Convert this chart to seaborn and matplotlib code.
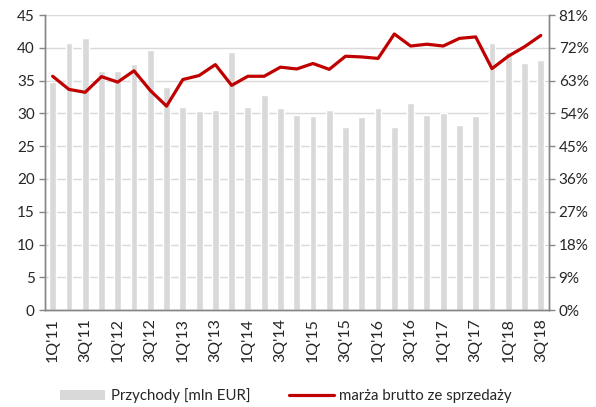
import numpy as np
import pandas as pd
import seaborn as sns
import matplotlib.pyplot as plt
from matplotlib.lines import Line2D
from matplotlib.patches import Patch
from matplotlib.ticker import FixedLocator, PercentFormatter

# quarters 1Q'11 .. 3Q'18
quarters = [f"{q}Q'{y:02d}" for y in range(11, 19) for q in range(1, 5)][:31]

# revenue [mln EUR] (left axis)
revenue = [34.8, 40.8, 41.5, 36.5, 36.5, 37.5, 39.7, 34.0, 31.0, 30.3,
           30.5, 39.3, 31.0, 32.8, 30.8, 29.8, 29.6, 30.5, 28.0, 29.4,
           30.8, 28.0, 31.6, 29.8, 30.1, 28.2, 29.6, 40.7, 39.4, 37.7,
           38.1]

# gross margin on sales [%] (right axis)
margin = [64.2, 60.6, 59.8, 64.1, 62.6, 65.7, 60.3, 56.0, 63.3, 64.4,
          67.4, 61.7, 64.2, 64.2, 66.7, 66.2, 67.7, 66.1, 69.7, 69.5,
          69.1, 75.8, 72.5, 73.0, 72.5, 74.6, 75.0, 66.3, 69.7, 72.3,
          75.4]

df = pd.DataFrame({"kw": quarters, "rev": revenue, "mar": margin})
df["pos"] = np.arange(len(df))

sns.set_style("white")
plt.rcParams["font.family"] = ["Lato", "DejaVu Sans"]
txt = "#262626"
axis_c = "#868686"

fig = plt.figure(figsize=(5.96, 4.07), dpi=100)
ax = fig.add_axes([0.0747, 0.238, 0.8463, 0.725])

sns.barplot(data=df, x="pos", y="rev", color="#d9d9d9", width=0.42,
            saturation=1, ax=ax, native_scale=True)
ax.set_axisbelow(True)
ax.yaxis.grid(True, color="#d9d9d9", linewidth=1)
ax.set_ylim(0, 45)
ax.set_yticks(range(0, 46, 5))
ax.set_xlim(-0.5, len(df) - 0.5)
ax.set_xticks(df["pos"][::2])
ax.set_xticklabels(df["kw"][::2], rotation=90)
ax.xaxis.set_minor_locator(FixedLocator(np.arange(-0.5, len(df), 1)))
ax.tick_params(axis="x", which="major", length=0, pad=6, labelsize=11.5, labelcolor=txt)
ax.tick_params(axis="x", which="minor", length=4, color=axis_c, width=1)
ax.tick_params(axis="y", length=4, color=axis_c, width=1, labelsize=11, labelcolor=txt, pad=3)
ax.set_xlabel("")
ax.set_ylabel("")

ax2 = ax.twinx()
sns.lineplot(data=df, x="pos", y="mar", color="#c00000", linewidth=2.3, ax=ax2)
ax2.set_ylim(0, 81)
ax2.set_yticks(range(0, 82, 9))
ax2.yaxis.set_major_formatter(PercentFormatter(decimals=0))
ax2.tick_params(axis="y", length=4, color=axis_c, width=1, labelsize=11, labelcolor=txt, pad=3)
ax2.set_ylabel("")
ax2.set_xlim(-0.5, len(df) - 0.5)

for a in (ax, ax2):
    a.spines["top"].set_visible(False)
    for s in ("left", "right", "bottom"):
        a.spines[s].set_color(axis_c)
        a.spines[s].set_linewidth(1)

handles = [Patch(facecolor="#d9d9d9", edgecolor="none"),
           Line2D([0], [0], color="#c00000", linewidth=2.3)]
labels = ["Przychody [mln EUR]", "marża brutto ze sprzedaży"]
fig.legend(handles, labels, loc="center", bbox_to_anchor=(0.48, 0.028), ncol=2,
           frameon=False, fontsize=10.8, handlelength=3.0, handletextpad=0.35,
           columnspacing=2.6, labelcolor=txt)

fig.savefig("out.png", dpi=100)
